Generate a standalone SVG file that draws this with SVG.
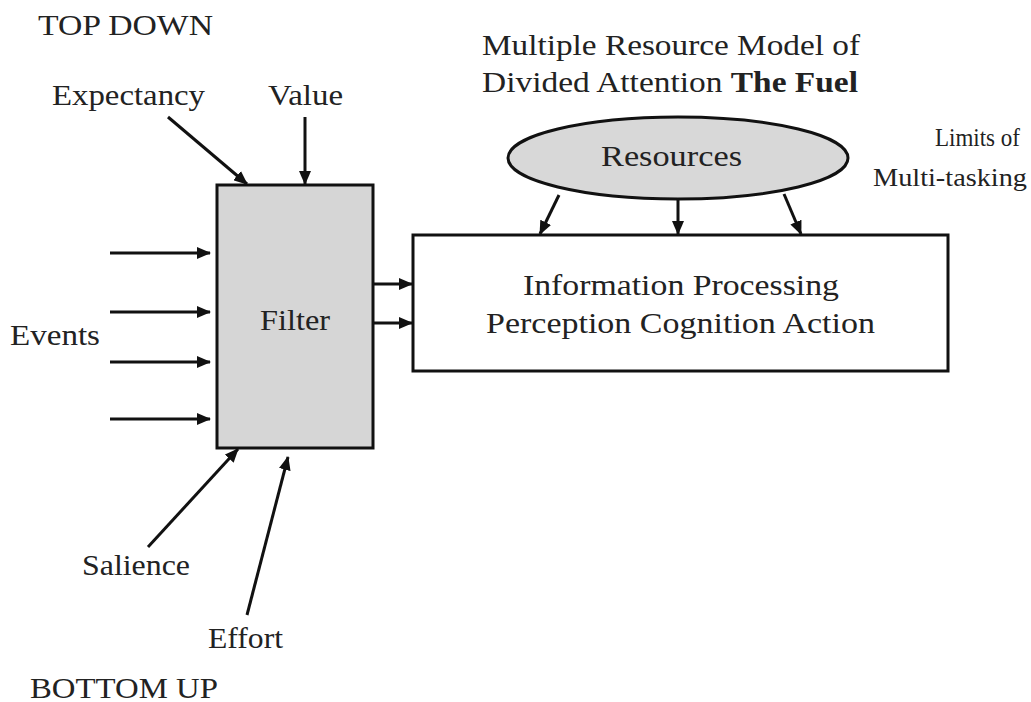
<svg xmlns="http://www.w3.org/2000/svg" width="1031" height="702" viewBox="0 0 1031 702">
  <style>
    .lbl { font-family: "Liberation Serif", "DejaVu Serif", serif; font-size: 29px; fill: #222; }
    .side { font-size: 26px; }
    .bold { font-weight: bold; }
    .box { stroke: #111; stroke-width: 3; }
    .arrow { stroke: #111; stroke-width: 3; fill: none; marker-end: url(#head); }
  </style>
  <defs>
    <marker id="head" markerUnits="userSpaceOnUse" markerWidth="14" markerHeight="12" refX="13" refY="6" orient="auto">
      <path d="M0,0 L14,6 L0,12 Z" fill="#111"/>
    </marker>
  </defs>
  <rect width="1031" height="702" fill="#fff"/>

  <!-- free labels -->
  <text class="lbl" x="38" y="35" textLength="175" lengthAdjust="spacingAndGlyphs">TOP DOWN</text>
  <text class="lbl" x="52" y="105" textLength="153" lengthAdjust="spacingAndGlyphs">Expectancy</text>
  <text class="lbl" x="268" y="105" textLength="75" lengthAdjust="spacingAndGlyphs">Value</text>
  <text class="lbl" x="10" y="345" textLength="90" lengthAdjust="spacingAndGlyphs">Events</text>
  <text class="lbl" x="82" y="575" textLength="108" lengthAdjust="spacingAndGlyphs">Salience</text>
  <text class="lbl" x="208" y="648" textLength="75" lengthAdjust="spacingAndGlyphs">Effort</text>
  <text class="lbl" x="30" y="698" textLength="188" lengthAdjust="spacingAndGlyphs">BOTTOM UP</text>
  <text class="lbl" x="482" y="55" textLength="378" lengthAdjust="spacingAndGlyphs">Multiple Resource Model of</text>
  <text class="lbl" x="482" y="92" textLength="376" lengthAdjust="spacingAndGlyphs">Divided Attention <tspan class="bold">The Fuel</tspan></text>
  <text class="lbl side" x="935" y="146" textLength="85" lengthAdjust="spacingAndGlyphs">Limits of</text>
  <text class="lbl side" x="873" y="186" textLength="154" lengthAdjust="spacingAndGlyphs">Multi-tasking</text>

  <!-- Filter node -->
  <g id="filter">
    <rect class="box" x="217" y="185" width="156" height="263" fill="#d6d6d6"/>
    <text class="lbl" x="260" y="330" textLength="70" lengthAdjust="spacingAndGlyphs">Filter</text>
  </g>

  <!-- Resources node -->
  <g id="resources">
    <ellipse class="box" cx="678" cy="158" rx="170" ry="41" fill="#d8d8d8"/>
    <text class="lbl" x="601" y="166" textLength="141" lengthAdjust="spacingAndGlyphs">Resources</text>
  </g>

  <!-- Information processing node -->
  <g id="info">
    <rect class="box" x="413" y="235" width="535" height="136" fill="#fff"/>
    <text class="lbl" x="523" y="295" textLength="316" lengthAdjust="spacingAndGlyphs">Information Processing</text>
    <text class="lbl" x="486" y="333" textLength="389" lengthAdjust="spacingAndGlyphs">Perception Cognition Action</text>
  </g>

  <!-- connectors -->
  <g id="connectors">
    <line class="arrow" x1="168" y1="117" x2="247" y2="184"/>
    <line class="arrow" x1="305" y1="117" x2="305" y2="184"/>
    <line class="arrow" x1="110" y1="253" x2="210" y2="253"/>
    <line class="arrow" x1="110" y1="312" x2="210" y2="312"/>
    <line class="arrow" x1="110" y1="362" x2="210" y2="362"/>
    <line class="arrow" x1="110" y1="419" x2="210" y2="419"/>
    <line class="arrow" x1="374" y1="284" x2="412" y2="284"/>
    <line class="arrow" x1="374" y1="323" x2="412" y2="323"/>
    <line class="arrow" x1="148" y1="547" x2="238" y2="449"/>
    <line class="arrow" x1="247" y1="615" x2="288" y2="457"/>
    <line class="arrow" x1="559" y1="195" x2="540" y2="234"/>
    <line class="arrow" x1="678" y1="199" x2="678" y2="234"/>
    <line class="arrow" x1="784" y1="194" x2="801" y2="234"/>
  </g>
</svg>
